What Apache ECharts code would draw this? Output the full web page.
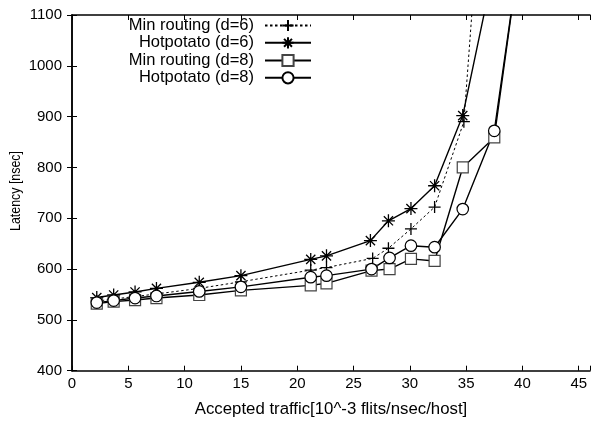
<!DOCTYPE html>
<html>
<head>
<meta charset="utf-8">
<script src="https://cdn.jsdelivr.net/npm/echarts@6/dist/echarts.min.js"></script>
<style>
html,body{margin:0;padding:0;background:#fff;}
#chart{width:593px;height:426px;}
</style>
</head>
<body>
<div id="chart"></div>
<script>
// ---- data ----
const seriesNames = ['Min routing (d=6)', 'Hotpotato (d=6)', 'Min routing (d=8)', 'Hotpotato (d=8)'];

const minD6X = [2.2, 3.7, 5.6, 7.5, 11.3, 15.0, 21.2, 22.6, 26.7, 28.1, 30.1, 32.2, 34.8, 36.0];
const minD6Y = [537, 541, 546, 551, 562, 575, 598, 603, 621, 641, 679, 722, 890, 1250];

const hotD6X = [2.2, 3.7, 5.6, 7.5, 11.3, 15.0, 21.2, 22.6, 26.5, 28.1, 30.1, 32.2, 34.7, 38.0];
const hotD6Y = [544, 549, 555, 562, 574, 587, 619, 626, 656, 695, 719, 764, 902, 1250];

const minD8X = [2.2, 3.7, 5.6, 7.5, 11.3, 15.0, 21.2, 22.6, 26.6, 28.2, 30.1, 32.2, 34.7, 37.5, 40.0];
const minD8Y = [532, 536, 539, 543, 549, 558, 568, 572, 597, 600, 620, 616, 800, 859, 1262];

const hotD8X = [2.2, 3.7, 5.6, 7.5, 11.3, 15.0, 21.2, 22.6, 26.6, 28.2, 30.1, 32.2, 34.7, 37.5, 40.0];
const hotD8Y = [534, 538, 543, 547, 556, 565, 584, 587, 600, 622, 646, 643, 718, 872, 1260];

const xTicks = [0, 5, 10, 15, 20, 25, 30, 35, 40, 45];
const yTicks = [400, 500, 600, 700, 800, 900, 1000, 1100];

const xTitle = 'Accepted traffic[10^-3 flits/nsec/host]';
const yTitle = 'Latency [nsec]';

// ---- chart ----
const pair = (xs, ys) => xs.map((x, i) => [x, ys[i]]);
const FONT = '"Liberation Sans", Arial, Helvetica, sans-serif';
const PLUS = 'path://M5 0L5 10M0 5L10 5';
const STAR = 'path://M5 0L5 10M0 5L10 5M1.46 1.46L8.54 8.54M8.54 1.46L1.46 8.54';

const chart = echarts.init(document.getElementById('chart'), null, {renderer: 'canvas'});

function fmtX(v) { return xTicks.indexOf(v) >= 0 ? String(v) : ''; }
function fmtY(v) { return yTicks.indexOf(v) >= 0 ? String(v) : ''; }

const axisLineStyle = {color: '#000', width: 1.5};

const legendRowCenters = [25, 42.3, 60, 77.3];
const legends = seriesNames.map((n, i) => ({
  orient: 'vertical',
  right: 281,
  top: legendRowCenters[i] - 8,
  padding: 0,
  align: 'right',
  itemWidth: 46,
  itemHeight: 14,
  selectedMode: false,
  formatter: function (name) { return '{t|' + name + '}'; },
  textStyle: {
    color: '#000', fontFamily: FONT,
    rich: {t: {fontSize: 16.5, color: '#000', fontFamily: FONT, padding: [0, 6, 0, 0], lineHeight: 16}}
  },
  data: [n]
}));

chart.setOption({
  animation: false,
  backgroundColor: '#fff',
  textStyle: {fontFamily: FONT},
  grid: {left: 72, right: -1, top: 15, bottom: 55.3, containLabel: false},
  legend: legends,
  graphic: [{
    type: 'text',
    x: 15.5, y: 191,
    rotation: Math.PI / 2,
    scaleX: 0.8,
    style: {
      text: yTitle,
      font: '15.5px ' + FONT,
      fill: '#000',
      align: 'center',
      verticalAlign: 'middle'
    }
  }],
  xAxis: [{
    type: 'value', min: 0, max: 46, interval: 5,
    position: 'bottom',
    name: xTitle, nameLocation: 'middle', nameGap: 30,
    nameTextStyle: {fontSize: 16.8, color: '#000', fontFamily: FONT},
    axisLine: {show: true, lineStyle: axisLineStyle},
    axisTick: {show: true, inside: true, length: 5, lineStyle: {color: '#000', width: 1}},
    axisLabel: {show: true, fontSize: 15, color: '#000', margin: 6, formatter: fmtX, fontFamily: FONT},
    splitLine: {show: false}
  }, {
    type: 'value', min: 0, max: 46, interval: 5,
    position: 'top',
    axisLine: {show: true, lineStyle: axisLineStyle},
    axisTick: {show: true, inside: true, length: 5, lineStyle: {color: '#000', width: 1}},
    axisLabel: {show: false},
    splitLine: {show: false}
  }],
  yAxis: [{
    type: 'value', min: 400, max: 1100, interval: 100,
    position: 'left',
    axisLine: {show: true, lineStyle: axisLineStyle},
    axisTick: {show: true, inside: true, length: 5, lineStyle: {color: '#000', width: 1}},
    axisLabel: {show: true, fontSize: 15, color: '#000', margin: 10, formatter: fmtY, fontFamily: FONT},
    splitLine: {show: false}
  }, {
    type: 'value', min: 400, max: 1100, interval: 100,
    position: 'right',
    axisLine: {show: true, lineStyle: axisLineStyle},
    axisTick: {show: true, inside: true, length: 5, lineStyle: {color: '#000', width: 1}},
    axisLabel: {show: false},
    splitLine: {show: false}
  }],
  series: [
    {
      name: seriesNames[0], type: 'line', xAxisIndex: 0, yAxisIndex: 0,
      data: pair(minD6X, minD6Y), clip: true,
      symbol: PLUS, symbolSize: 12, showAllSymbol: true,
      lineStyle: {color: '#000', width: 1, type: [2.5, 2.5]},
      itemStyle: {color: '#000', borderColor: '#000', borderWidth: 1.3}
    },
    {
      name: seriesNames[1], type: 'line', xAxisIndex: 0, yAxisIndex: 0,
      data: pair(hotD6X, hotD6Y), clip: true,
      symbol: STAR, symbolSize: 13, showAllSymbol: true,
      lineStyle: {color: '#000', width: 1.4, type: 'solid'},
      itemStyle: {color: '#000', borderColor: '#000', borderWidth: 1.3}
    },
    {
      name: seriesNames[2], type: 'line', xAxisIndex: 0, yAxisIndex: 0,
      data: pair(minD8X, minD8Y), clip: true,
      symbol: 'rect', symbolSize: 11, showAllSymbol: true,
      lineStyle: {color: '#000', width: 1.4, type: 'solid'},
      itemStyle: {color: '#fff', borderColor: '#444', borderWidth: 1.2}
    },
    {
      name: seriesNames[3], type: 'line', xAxisIndex: 0, yAxisIndex: 0,
      data: pair(hotD8X, hotD8Y), clip: true,
      symbol: 'circle', symbolSize: 11.5, showAllSymbol: true,
      lineStyle: {color: '#000', width: 1.4, type: 'solid'},
      itemStyle: {color: '#fff', borderColor: '#000', borderWidth: 1.2}
    }
  ]
});
</script>
</body>
</html>
